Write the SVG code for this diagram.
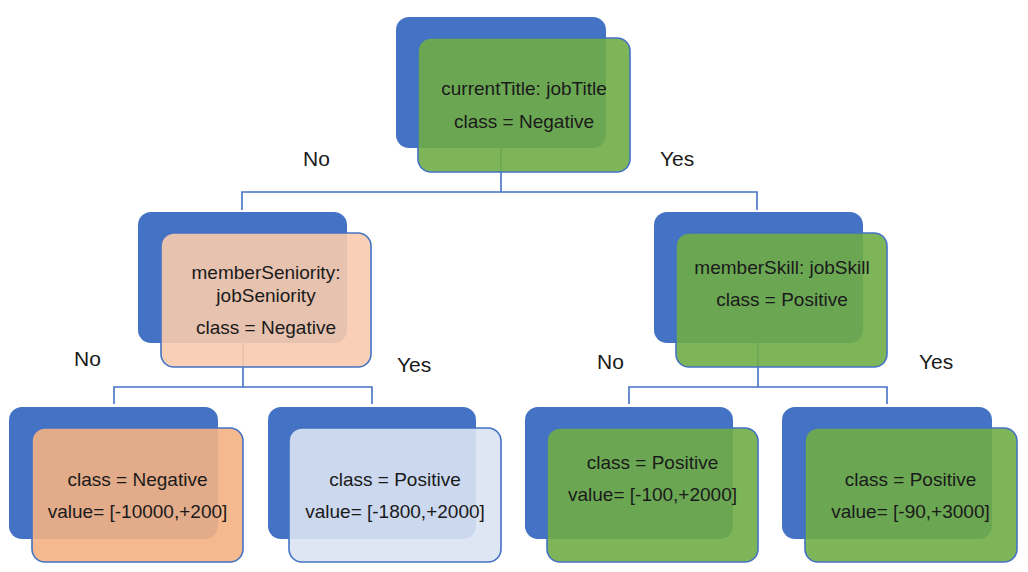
<svg xmlns="http://www.w3.org/2000/svg" width="1028" height="572" viewBox="0 0 1028 572">
<style>
.bg{fill:#4472C4}
.fr{stroke:#4472C4;stroke-width:1.6;fill-opacity:0.9}
.g{fill:#70AD47}
.p{fill:#F8CBAD}
.o{fill:#F4B183}
.lb{fill:#DAE3F3}
.t{font-family:"Liberation Sans",Arial,sans-serif;font-size:19px;fill:#1a1a1a;text-anchor:middle}
.l{font-family:"Liberation Sans",Arial,sans-serif;font-size:21px;fill:#1a1a1a}
.c{fill:none;stroke:#4472C4;stroke-width:1.6}
</style>
<rect width="1028" height="572" fill="#ffffff"/>
<g id="connectors">
<path class="c" d="M501,148 V192 M242,210 V192 H757 V210"/>
<path class="c" d="M243,343 V387 M114,404 V387 H372 V404"/>
<path class="c" d="M758,343 V387 M629,404 V387 H887 V404"/>
</g>
<g id="root">
<rect class="bg" x="396" y="17" width="210" height="131" rx="13"/>
<rect class="fr g" x="418" y="38" width="212" height="134" rx="13"/>
<text class="t" x="524" y="95">currentTitle: jobTitle</text>
<text class="t" x="524" y="128">class = Negative</text>
</g>
<g id="seniority">
<rect class="bg" x="138" y="212" width="209" height="131" rx="13"/>
<rect class="fr p" x="161" y="233" width="210" height="134" rx="13"/>
<text class="t" x="266" y="279">memberSeniority:</text>
<text class="t" x="266" y="302">jobSeniority</text>
<text class="t" x="266" y="334">class = Negative</text>
</g>
<g id="skill">
<rect class="bg" x="654" y="212" width="209" height="131" rx="13"/>
<rect class="fr g" x="676" y="233" width="211" height="134" rx="13"/>
<text class="t" x="782" y="274">memberSkill: jobSkill</text>
<text class="t" x="782" y="306">class = Positive</text>
</g>
<g id="leaf1">
<rect class="bg" x="9" y="407" width="209" height="132" rx="13"/>
<rect class="fr o" x="32" y="428" width="211" height="134" rx="13"/>
<text class="t" x="137.5" y="486">class = Negative</text>
<text class="t" x="137.5" y="518">value= [-10000,+200]</text>
</g>
<g id="leaf2">
<rect class="bg" x="268" y="407" width="208" height="132" rx="13"/>
<rect class="fr lb" x="289" y="428" width="212" height="134" rx="13"/>
<text class="t" x="395" y="486">class = Positive</text>
<text class="t" x="395" y="518">value= [-1800,+2000]</text>
</g>
<g id="leaf3">
<rect class="bg" x="525" y="407" width="208" height="132" rx="13"/>
<rect class="fr g" x="547" y="428" width="211" height="134" rx="13"/>
<text class="t" x="652.5" y="469">class = Positive</text>
<text class="t" x="652.5" y="501">value= [-100,+2000]</text>
</g>
<g id="leaf4">
<rect class="bg" x="782" y="407" width="210" height="132" rx="13"/>
<rect class="fr g" x="805" y="428" width="212" height="134" rx="13"/>
<text class="t" x="910.5" y="486">class = Positive</text>
<text class="t" x="910.5" y="518">value= [-90,+3000]</text>
</g>
<g id="labels">
<text class="l" x="303" y="166">No</text>
<text class="l" x="660" y="166">Yes</text>
<text class="l" x="74" y="366">No</text>
<text class="l" x="397" y="372">Yes</text>
<text class="l" x="597" y="369">No</text>
<text class="l" x="919" y="369">Yes</text>
</g>
</svg>
